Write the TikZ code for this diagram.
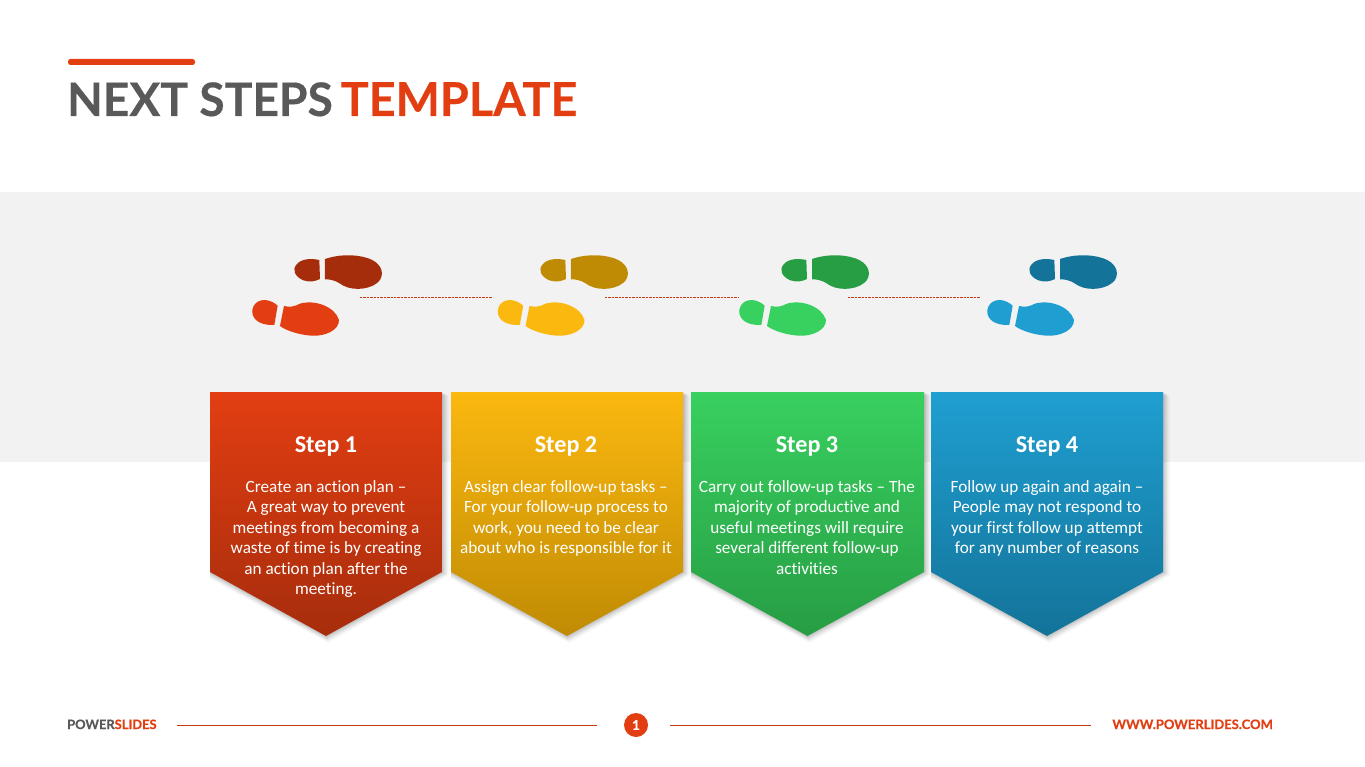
\documentclass[tikz,border=0pt]{standalone}
\usepackage{fontspec}
\setmainfont[Ligatures=NoCommon]{Carlito}
\newfontfamily\latofont[BoldFeatures={FakeBold=0.35}]{Lato}
\usetikzlibrary{calc}
\definecolor{ink}{HTML}{595959}
\definecolor{accent}{HTML}{E33E12}
\definecolor{band}{HTML}{F2F2F2}
\definecolor{redL}{HTML}{E33E12}\definecolor{redD}{HTML}{A62D0C}
\definecolor{yelL}{HTML}{FBB80F}\definecolor{yelD}{HTML}{C08B04}
\definecolor{grnL}{HTML}{38D05F}\definecolor{grnD}{HTML}{279D44}
\definecolor{bluL}{HTML}{1F9FD1}\definecolor{bluD}{HTML}{137399}
\tikzset{
  dashlink/.style={draw=accent!90!black,dash pattern=on 2.4pt off 1pt,line width=0.8pt},
  footline/.style={draw=accent!88!black,line width=0.9pt},
  cardhead/.style={text=white,font=\fontsize{24.2}{24}\selectfont\bfseries,anchor=center},
  cardbody/.style={text=white,font=\fontsize{17.2}{20.5}\selectfont,align=center,anchor=north},
  pics/heelup/.style={code={
    \fill[#1] (238,45) .. controls (215,40) and (185,40) .. (170,58) .. controls (155,75) and (165,95) .. (190,106) .. controls (210,113) and (228,108) .. (240,102) -- cycle;
    \fill[#1] (255,42) .. controls (290,30) and (340,25) .. (385,40) .. controls (420,52) and (435,80) .. (420,105) .. controls (400,132) and (345,140) .. (310,122) .. controls (295,113) and (285,103) .. (255,103) -- cycle;
  }},
  pics/heeldown/.style={code={
    \fill[#1] (113,182) .. controls (95,165) and (65,158) .. (47,175) .. controls (28,195) and (36,225) .. (65,235) .. controls (78,240) and (92,240) .. (103,240) -- cycle;
    \fill[#1] (132,183) .. controls (150,188) and (165,184) .. (180,176) .. controls (225,163) and (285,185) .. (297,225) .. controls (298,255) and (255,275) .. (215,272) .. controls (180,270) and (140,258) .. (120,243) -- cycle;
  }}
}
\newcommand{\cardpath}[2]{(#1,392) -- (#2,392) -- (#2,572) -- ({(#1+#2)/2},636) -- (#1,572) -- cycle}
\newcommand{\cardshadow}[2]{%
  \foreach \d/\o in {7/.02,6/.025,5/.03,4/.035,3/.04,2/.045,1/.05}{
    \fill[black,opacity=\o] (#1+\d,392+\d*0.5) -- (#2+\d,392+\d*0.5) -- (#2+\d,572+\d*0.5) -- ({(#1+#2)/2+\d*0.3},636+\d) -- (#1,572+\d) -- cycle;
  }}
\begin{document}
\begin{tikzpicture}[x=1pt,y=-1pt]
\useasboundingbox (0,0) rectangle (1365,767);
\fill[white] (0,0) rectangle (1365,767);
\fill[band] (0,192) rectangle (1365,462);
% title
\fill[accent,rounded corners=2.5pt] (68,59) rectangle (195,65);
\node[anchor=base west,inner sep=0pt,font=\fontsize{46.2}{46.2}\selectfont\latofont\bfseries,text=ink] (title) at (67,116) {NEXT STEPS\hspace{0.17em}\textcolor{accent}{\fontsize{46.8}{46.8}\selectfont TEMPLATE}};
% footprints
\foreach \dx/\cd in {0/redD, 246/yelD, 487/grnD, 735/bluD}{
  \begin{scope}[shift={(\dx+240,245)},x=0.3333pt,y=-0.3333pt]
    \pic {heelup=\cd};
  \end{scope}
}
\foreach \dx/\cl in {0/redL, 245.5/yelL, 487/grnL, 735/bluL}{
  \begin{scope}[shift={(\dx+240,245)},x=0.3333pt,y=-0.3333pt]
    \pic {heeldown=\cl};
  \end{scope}
}
% links
\coordinate (a1) at (360,297.5); \coordinate (b1) at (492,297.5);
\coordinate (a2) at (605,297.5); \coordinate (b2) at (738,297.5);
\coordinate (a3) at (848,297.5); \coordinate (b3) at (980,297.5);
\draw[dashlink] (a1) -- (b1);
\draw[dashlink] (a2) -- (b2);
\draw[dashlink] (a3) -- (b3);
% cards
\foreach \a/\b/\cl/\cd in {210/442/redL/redD,451/683/yelL/yelD,691/924/grnL/grnD,931/1163/bluL/bluD}{
  \cardshadow{\a}{\b}
  \shade[top color=\cl,bottom color=\cd] \cardpath{\a}{\b};
}
\node[cardhead] (h1) at (326,446.5) {Step 1};
\node[cardhead] (h2) at (566,446.5) {Step 2};
\node[cardhead] (h3) at (807,446.5) {Step 3};
\node[cardhead] (h4) at (1047,446.5) {Step 4};
\node[cardbody] (t1) at (326,477) {Create an action plan –\\A great way to prevent\\meetings from becoming a\\waste of time is by creating\\an action plan after the\\meeting.};
\node[cardbody] (t2) at (566,477) {Assign clear follow-up tasks –\\For your follow-up process to\\work, you need to be clear\\about who is responsible for it};
\node[cardbody] (t3) at (807,477) {Carry out follow-up tasks – The\\majority of productive and\\useful meetings will require\\several different follow-up\\activities};
\node[cardbody] (t4) at (1047,477) {Follow up again and again –\\People may not respond to\\your first follow up attempt\\for any number of reasons};
% footer
\node[anchor=base west,inner sep=0pt,font=\fontsize{12.9}{13}\selectfont\latofont\bfseries,text=ink] (brand) at (67,729) {POWER\textcolor{accent}{SLIDES}};
\node[anchor=base east,inner sep=0pt,font=\fontsize{13}{13}\selectfont\latofont\bfseries,text=accent] (web) at (1273,729) {WWW.POWERLIDES.COM};
\node[circle,fill=accent,text=white,minimum size=24pt,inner sep=0pt,font=\fontsize{13.5}{13.5}\selectfont\latofont\bfseries] (pg) at (636,725) {1};
\coordinate (l1a) at (177,725.5); \coordinate (l1b) at (597,725.5);
\coordinate (l2a) at (670,725.5); \coordinate (l2b) at (1091,725.5);
\draw[footline] (l1a) -- (l1b);
\draw[footline] (l2a) -- (l2b);
\end{tikzpicture}
\end{document}
